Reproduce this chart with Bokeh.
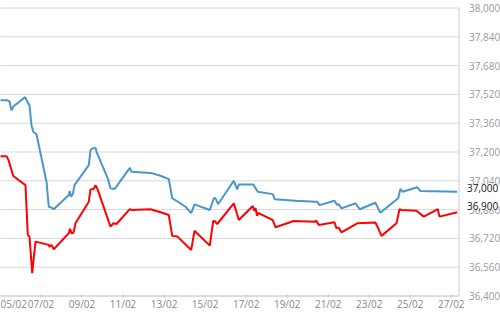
from bokeh.plotting import figure
from bokeh.models import Label, Range1d
from bokeh.core.properties import value
from bokeh.embed import file_html
from bokeh.resources import INLINE

# x = day of February (fractional)
blue_day = [5.0, 5.367, 5.465, 5.562, 5.66, 6.23, 6.342, 6.44, 6.537, 6.634, 6.78, 7.268, 7.38, 7.512, 7.624,
            8.355, 8.389, 8.462, 8.56, 8.633, 9.33, 9.413, 9.51, 9.657, 9.705, 10.256, 10.388, 10.583, 10.729,
            11.329, 11.411, 12.337, 12.825, 13.23, 13.395, 13.605, 14.044, 14.322, 14.483, 15.228, 15.423, 15.5,
            15.638, 16.398, 16.564, 16.642, 17.344, 17.568, 18.3, 18.397, 19.405, 20.38, 20.463, 20.575, 21.306,
            21.438, 21.5, 21.647, 22.33, 22.54, 23.3, 23.54, 24.41, 24.52, 24.636, 25.338, 25.5, 27.29]
blue_val = [37487, 37487, 37481, 37431, 37454, 37505, 37477, 37459, 37348, 37311, 37299, 37035, 36896, 36891, 36882,
            36961, 36983, 36951, 36970, 37016, 37127, 37210, 37219, 37223, 37201, 37053, 36998, 36994, 37016,
            37112, 37090, 37084, 37068, 37049, 36943, 36929, 36896, 36860, 36909, 36878, 36943, 36944,
            36911, 37040, 36992, 37020, 37020, 36979, 36966, 36937, 36929, 36924, 36924, 36905, 36929,
            36905, 36911, 36887, 36915, 36882, 36918, 36863, 36943, 36995, 36979, 37004, 36983, 36979]

red_day = [5.0, 5.318, 5.416, 5.513, 5.645, 5.855, 6.244, 6.357, 6.44, 6.571, 6.732, 7.38, 7.414, 7.512, 7.624,
           8.355, 8.414, 8.487, 8.584, 8.682, 9.33, 9.413, 9.56, 9.657, 9.754, 10.388, 10.534, 10.68, 11.329,
           11.411, 12.337, 12.825, 13.23, 13.395, 13.653, 14.322, 14.483, 15.228, 15.394, 15.458, 15.589, 16.398,
           16.642, 17.324, 17.407, 17.456, 17.53, 17.58, 18.298, 18.43, 19.323, 20.38, 20.41, 20.54, 21.306, 21.4,
           21.5, 21.647, 22.413, 23.3, 23.4, 23.6, 24.33, 24.475, 24.573, 25.304, 25.66, 26.342, 26.425, 27.29]
red_val = [37177, 37177, 37155, 37118, 37068, 37049, 37016, 36739, 36730, 36527, 36702, 36684, 36673, 36684, 36660,
           36749, 36773, 36749, 36751, 36804, 36924, 36992, 36994, 37016, 36994, 36785, 36804, 36800, 36883,
           36878, 36882, 36865, 36850, 36734, 36730, 36656, 36762, 36680, 36817, 36817, 36800, 36915,
           36822, 36900, 36872, 36889, 36845, 36862, 36822, 36782, 36817, 36813, 36819, 36795, 36810, 36777,
           36780, 36754, 36804, 36808, 36785, 36734, 36804, 36882, 36878, 36874, 36841, 36882, 36841, 36865]

x_ticks = [7, 9, 11, 13, 15, 17, 19, 21, 23, 25, 27]
x_tick_labels = ["07/02", "09/02", "11/02", "13/02", "15/02", "17/02", "19/02",
                 "21/02", "23/02", "25/02", "27/02"]
first_tick_label = "05/02"
y_ticks = [36400, 36560, 36720, 36880, 37040, 37200, 37360, 37520, 37680, 37840, 38000]
y_tick_labels = ["{:,}".format(v) for v in y_ticks]
last_labels = [37000, 36900]

FONT = value("Open Sans")

# scales: the plotting area of the chart spans days X0..X1, values Y_MIN..Y_MAX
PX_PER_DAY = 20.515
X0 = 5.026
XE = X0 + 500 / PX_PER_DAY          # canvas right edge
X1 = X0 + 458.5 / PX_PER_DAY        # plot area right edge
Y_MIN, Y_MAX = 36400, 38000
PX_PER_VAL = 288 / (Y_MAX - Y_MIN)
YB = Y_MIN - 16.5 / PX_PER_VAL
YT = Y_MAX + 7.5 / PX_PER_VAL

p = figure(width=500, height=312, output_backend="svg", toolbar_location=None,
           x_range=Range1d(X0, XE), y_range=Range1d(YB, YT),
           x_axis_location=None, y_axis_location=None, min_border=0)
p.outline_line_color = None
p.grid.visible = False
p.background_fill_color = "white"
p.border_fill_color = "white"

# horizontal grid lines
p.segment(x0=X0 - 1, x1=X1, y0=y_ticks, y1=y_ticks, line_color="#d8d8d8", line_width=1)
# plot area right border and bottom axis line
p.segment(x0=[X1], x1=[X1], y0=[Y_MIN], y1=[Y_MAX], line_color="#cccccc", line_width=1)
p.segment(x0=[X0 - 1], x1=[X1], y0=[Y_MIN], y1=[Y_MIN], line_color="#c0d0e0", line_width=1)
# x tick marks
p.scatter(x=x_ticks, y=[Y_MIN] * len(x_ticks), marker="dash", angle=1.5708, size=4,
          line_color="#c0d0e0", line_width=1)

# series
p.line(blue_day, blue_val, line_color="#4a95cc", line_width=2)
p.line(red_day, red_val, line_color="#ff0000", line_width=2)

# x labels
p.text(x=x_ticks, y=[Y_MIN] * len(x_ticks), text=x_tick_labels, y_offset=8,
       text_align="center", text_baseline="middle", text_font=FONT,
       text_font_size="10px", text_color="#888888")
p.text(x=[X0], y=[Y_MIN], text=[first_tick_label], y_offset=8, x_offset=0,
       text_align="left", text_baseline="middle", text_font=FONT,
       text_font_size="10px", text_color="#888888")

# y labels
p.text(x=[X1] * len(y_ticks), y=y_ticks, text=y_tick_labels, x_offset=10,
       text_align="left", text_baseline="middle", text_font=FONT,
       text_font_size="10px", text_color="#999999")

# last value labels
for v in last_labels:
    p.add_layout(Label(x=X1, y=v, x_offset=8, text="{:,}".format(v), text_font="Open Sans",
                       text_font_size="10px", text_color="#111111", text_baseline="middle",
                       background_fill_color="white", background_fill_alpha=1.0))

open("out.html", "w").write(file_html(p, INLINE))
